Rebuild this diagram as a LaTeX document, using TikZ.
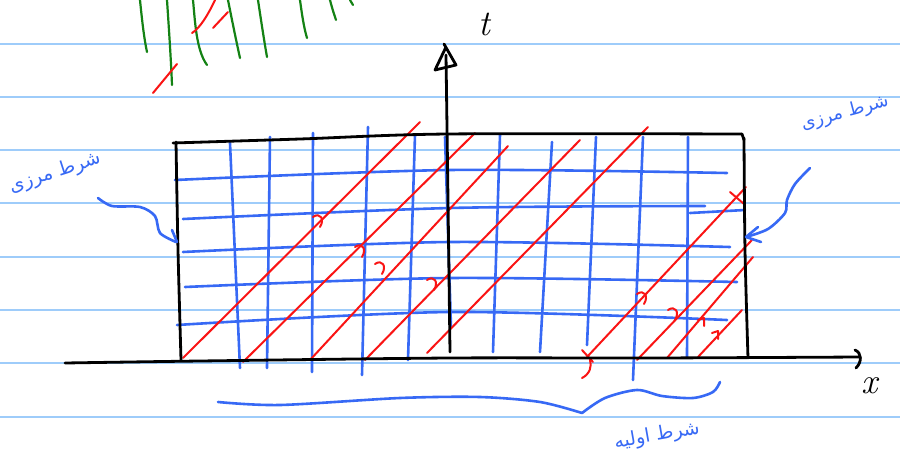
\documentclass[tikz,border=0pt]{standalone}
\usepackage{fontspec}
\newfontfamily\arabicfont[Script=Arabic]{DejaVu Sans}
\TeXXeTstate=1
\definecolor{rulec}{RGB}{158,204,250}
\definecolor{bink}{RGB}{55,105,245}
\definecolor{rink}{RGB}{250,20,20}
\definecolor{gink}{RGB}{20,130,20}
\begin{document}
\begin{tikzpicture}[x=1pt,y=-1pt, line cap=round, line join=round,
 ruled/.style={draw=rulec, line width=2pt},
 blueink/.style={draw=bink, line width=2.6pt},
 redink/.style={draw=rink, line width=2pt},
 blackink/.style={draw=black, line width=2.8pt},
 greenink/.style={draw=gink, line width=2.2pt},
 labeltext/.style={text=bink, inner sep=0pt},
 hookmark/.pic={\draw[redink] (-5,-2) .. controls (2,-7) and (7,0) .. (2,8);}]
\useasboundingbox[fill=white] (0,0) rectangle (900,466);
% ruled paper
\foreach \k in {0,...,7} \draw[ruled] (0,{43.5+53.3*\k}) -- (900,{43.5+53.3*\k});
% green strokes top-left
\draw[greenink] (140,0) .. controls (142,20) and (144,38) .. (147,52);
\draw[greenink] (167,0) .. controls (169,30) and (171,60) .. (172,85);
\draw[greenink] (193,0) .. controls (195,20) and (196,50) .. (207,65);
\draw[greenink] (228,0) .. controls (232,20) and (236,40) .. (240,58);
\draw[greenink] (258,0) .. controls (261,20) and (264,40) .. (267,57);
\draw[greenink] (300,0) .. controls (302,15) and (304,28) .. (307,38);
\draw[greenink] (330,0) .. controls (332,8) and (334,14) .. (336,20);
\draw[greenink] (350,0) -- (353,5);
\draw[redink] (153,93) -- (177,64);
\draw[redink] (192,33) .. controls (200,28) and (208,15) .. (215,0);
\draw[redink] (213,28) -- (228,12);
% blue grid: verticals
\draw[blueink] (230,143) -- (240,368);
\draw[blueink] (270,137) -- (267,368);
\draw[blueink] (313,133) -- (312,372);
\draw[blueink] (368,127) -- (362,375);
\draw[blueink] (415,135) -- (408,360);
\draw[blueink] (445,137) -- (451,327);
\draw[blueink] (500,135) -- (493,352);
\draw[blueink] (552,142) -- (540,352);
\draw[blueink] (596,137) -- (587,345);
\draw[blueink] (643,137) -- (633,380);
\draw[blueink] (688,137) -- (687,357);
% blue grid: horizontals
\draw[blueink] plot[smooth] coordinates {(175,180) (450,170) (727,173)};
\draw[blueink] plot[smooth] coordinates {(183,219) (450,208) (705,206)};
\draw[blueink] (690,213) -- (745,210);
\draw[blueink] plot[smooth] coordinates {(183,252) (450,242) (730,247)};
\draw[blueink] plot[smooth] coordinates {(185,287) (450,278) (737,282)};
\draw[blueink] plot[smooth] coordinates {(177,325) (450,312) (727,320)};
% red characteristics
\draw[redink] (183,358) -- (420,122);
\draw[redink] (243,362) -- (475,133);
\draw[redink] (310,360) -- (508,146);
\draw[redink] (365,360) -- (580,140);
\draw[redink] (427,353) -- (648,127);
\draw[redink] (587,357) -- (746,187);
\draw[redink] (637,360) -- (752,240);
\draw[redink] (667,358) -- (753,257);
\draw[redink] (698,357) -- (742,310);
% red marks
\pic at (318,219) {hookmark};
\pic at (360,249) {hookmark};
\pic at (380,266) {hookmark};
\pic at (432,282) {hookmark};
\pic at (642,296) {hookmark};
\pic at (673,312) {hookmark};
\draw[redink] (698,320) -- (704,318) -- (704,326);
\draw[redink] (712,333) -- (718,331) -- (718,339);
\draw[redink] (730,192) -- (744,204);
\draw[redink] (582,350) -- (593,362);
\draw[redink] (590,360) .. controls (592,366) and (590,374) .. (582,378);
% rectangle
\draw[blackink] plot[smooth] coordinates {(176,142) (178,250) (181,360)};
\draw[blackink] plot[smooth] coordinates {(173,143) (300,139) (447,134) (742,134)};
\draw[blackink] (742,134) -- (744,140);
\draw[blackink] plot[smooth] coordinates {(744,138) (745,250) (748,358)};
% axes
\draw[blackink] plot[smooth] coordinates {(65,363) (200,361) (450,358) (650,358) (860,357)};
\draw[blackink] (855,350) .. controls (862,353) and (862,362) .. (856,368);
\draw[blackink] plot[smooth] coordinates {(450,352) (448,200) (446,55)};
\draw[blackink] (446,47) -- (435,70) -- (456,65) -- (444,44);
\node (tlabel) at (484,24) {\fontsize{36}{36}\selectfont\itshape t};
\node (xlabel) at (870,386) {\fontsize{36}{36}\selectfont\itshape x};
% boundary condition labels and arrows
\node[labeltext, rotate=18] (leftlbl) at (55,173) {\arabicfont\fontsize{19}{22}\selectfont\beginR شرط مرزی\endR};
\draw[blueink] plot[smooth] coordinates {(98,198) (112,206) (140,207) (155,216) (160,233) (176,242)};
\draw[blueink] (172,230) -- (177,242);
\node[labeltext, rotate=15] (rightlbl) at (845,113) {\arabicfont\fontsize{18}{22}\selectfont\beginR شرط مرزی\endR};
\draw[blueink] plot[smooth] coordinates {(810,168) (795,184) (787,200) (785,213) (768,229) (746,237)};
\draw[blueink] (746,237) -- (758,227);
\draw[blueink] (746,237) -- (761,242);
% initial condition brace and label
\draw[blueink] plot[smooth] coordinates {(218,402) (280,405) (400,398) (480,397) (540,402) (582,413)};
\draw[blueink] plot[smooth] coordinates {(582,413) (605,398) (637,390) (662,396) (693,398) (713,392) (720,382)};
\node[labeltext, rotate=10] (bottomlbl) at (657,436) {\arabicfont\fontsize{19}{22}\selectfont\beginR شرط اولیه\endR};
\end{tikzpicture}
\end{document}
